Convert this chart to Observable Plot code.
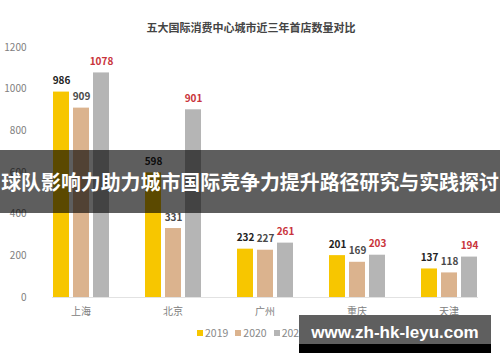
<!DOCTYPE html>
<html>
<head>
<meta charset="utf-8">
<script src="https://cdn.jsdelivr.net/npm/d3@7"></script>
<script src="https://cdn.jsdelivr.net/npm/@observablehq/plot@0.6"></script>
<style>
  html, body { margin: 0; padding: 0; background: #fff; }
  #wrap { position: relative; width: 500px; height: 362px; overflow: hidden; font-family: "Noto Sans CJK SC", "Noto Sans", sans-serif; }
  #title { position: absolute; left: 0; top: 18px; width: 502px; text-align: center; font-size: 11px; font-weight: bold; color: #444; line-height: 18px; }
  #chart { position: absolute; left: 0; top: 0; }
  #legend { position: absolute; top: 325px; left: 197px; font-size: 10.5px; color: #888; white-space: nowrap; line-height: 16px; }
  #legend span.sw { display: inline-block; width: 6px; height: 6px; margin-right: 2px; vertical-align: 1px; }
  #legend span.it { margin-right: 7px; }
  #banner { position: absolute; left: 0; top: 150px; width: 500px; height: 63px; background: rgba(0,0,0,0.63); }
  #banner span { position: absolute; left: 0; top: 0; color: #fff; font-size: 21px; font-weight: bold; line-height: 63px; white-space: nowrap; }
  #wm { position: absolute; left: 299px; top: 315px; width: 192px; height: 38px; background: #5f5f5f; }
  #wm .strip { position: absolute; left: 0; bottom: 0; width: 100%; height: 9px; background: #000; }
  #wm .txt { position: absolute; left: 0; top: 8px; width: 100%; text-align: center; color: #fff; font-family: "Liberation Sans", Arial, sans-serif; font-weight: bold; font-size: 17px; line-height: 20px; }
</style>
</head>
<body>
<div id="wrap">
  <div id="chart"></div>
  <div id="title"></div>
  <div id="legend"></div>
  <div id="banner"><span></span></div>
  <div id="wm"><div class="strip"></div><div class="txt"></div></div>
</div>
<script>
const titleText = "五大国际消费中心城市近三年首店数量对比";
const bannerText = "球队影响力助力城市国际竞争力提升路径研究与实践探讨";
const watermarkText = "www.zh-hk-leyu.com";
const cities = ["上海", "北京", "广州", "重庆", "天津"];
const years = ["2019", "2020", "2021"];
const v2019 = [986, 598, 232, 201, 137];
const v2020 = [909, 331, 227, 169, 118];
const v2021 = [1078, 901, 261, 203, 194];
const yTicks = [0, 200, 400, 600, 800, 1000, 1200];
const barColors = ["#f7c600", "#dbb38e", "#b5b5b5"];
const labelColors = ["#222222", "#4a4a4a", "#c9343b"];

const series = [v2019, v2020, v2021];
const data = cities.flatMap((c, i) => years.map((yr, j) => ({city: c, year: yr, value: series[j][i]})));

const chart = Plot.plot({
  width: 500,
  height: 330,
  marginTop: 47,
  marginBottom: 33,
  marginLeft: 35,
  marginRight: 5,
  style: {fontFamily: "'Noto Sans CJK SC', 'Noto Sans', sans-serif", fontSize: "10px", color: "#808080", background: "transparent"},
  fx: {domain: cities, paddingInner: 0.38, paddingOuter: 0.19, axis: "bottom", label: null, tickSize: 0, tickPadding: 10},
  x: {domain: years, paddingInner: 0.22, paddingOuter: 0, axis: null},
  y: {domain: [0, 1200], ticks: yTicks, tickFormat: d => String(d), tickSize: 0, tickPadding: 26, label: null},
  color: {domain: years, range: barColors},
  marks: [
    Plot.frame({anchor: "bottom", stroke: "#e2e2e2", strokeWidth: 1, facet: "super"}),
    Plot.barY(data, {fx: "city", x: "year", y: "value", fill: "year"}),
    ...years.map((yr, j) => Plot.text(data.filter(d => d.year === yr), {
      fx: "city", x: "year", y: "value", text: d => String(d.value), dy: -11,
      fill: labelColors[j], fontWeight: "bold", fontSize: 10
    }))
  ]
});
document.getElementById("chart").appendChild(chart);

document.getElementById("title").textContent = titleText;
const legend = document.getElementById("legend");
years.forEach((yr, j) => {
  const sw = document.createElement("span");
  sw.className = "sw";
  sw.style.background = barColors[j];
  const it = document.createElement("span");
  it.className = "it";
  it.textContent = yr;
  legend.appendChild(sw);
  legend.appendChild(it);
});
const bspan = document.querySelector("#banner span");
bspan.textContent = bannerText;
const w = bspan.getBoundingClientRect().width;
const fs = 21 * 498 / w;
bspan.style.fontSize = fs + "px";
const w2 = bspan.getBoundingClientRect().width;
bspan.style.left = ((500 - w2) / 2) + "px";
document.querySelector("#wm .txt").textContent = watermarkText;
</script>
</body>
</html>
